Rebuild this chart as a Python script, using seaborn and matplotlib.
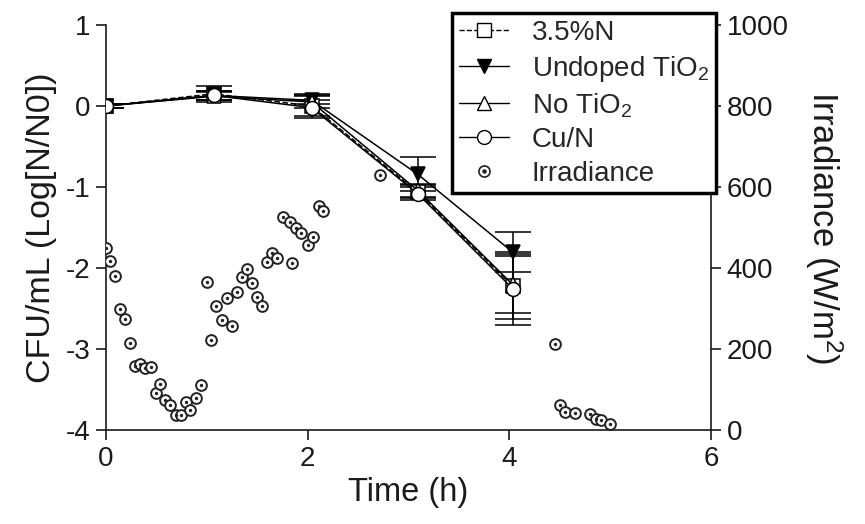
import numpy as np
import pandas as pd
import matplotlib
matplotlib.use("Agg")
import matplotlib.pyplot as plt
import seaborn as sns
from matplotlib.lines import Line2D
from matplotlib.legend_handler import HandlerTuple

# ---------------- data ----------------
series_names = ["3.5%N", "Undoped TiO$_2$", "No TiO$_2$", "Cu/N"]
time_35N = [0.0, 1.07, 2.04, 3.09, 4.03]
time_undoped = [0.0, 1.07, 2.04, 3.09, 4.03]
time_notio2 = [0.0, 1.07, 2.04, 3.09, 4.03]
time_cun = [0.0, 1.07, 2.04, 3.09, 4.03]

cfu_35N = [0.0, 0.15, 0.0, -1.06, -2.22]
cfu_undoped = [0.0, 0.13, 0.07, -0.84, -1.80]
cfu_notio2 = [0.0, 0.12, 0.05, -1.04, -2.20]
cfu_cun = [0.0, 0.13, -0.02, -1.08, -2.25]

err_35N = [0.03, 0.10, 0.15, 0.08, 0.40]
err_undoped = [0.03, 0.05, 0.05, 0.21, 0.25]
err_notio2 = [0.03, 0.05, 0.08, 0.08, 0.35]
err_cun = [0.03, 0.05, 0.10, 0.08, 0.45]

irr_time = [0.00, 0.045, 0.09, 0.14, 0.19, 0.24, 0.29, 0.34, 0.39, 0.45,
            0.50, 0.54, 0.59, 0.64, 0.70, 0.75, 0.80, 0.84, 0.90, 0.95,
            1.00, 1.04, 1.09, 1.15, 1.20, 1.25, 1.30, 1.35, 1.40, 1.45,
            1.50, 1.55, 1.60, 1.65, 1.70, 1.76, 1.83, 1.85, 1.89, 1.94,
            2.00, 2.05, 2.11, 2.15, 2.72, 4.45, 4.50, 4.55, 4.65, 4.80,
            4.86, 4.91, 5.00]
irr_value = [449, 419, 382, 299, 274, 215, 158, 165, 153, 157,
             93, 115, 75, 64, 38, 39, 71, 51, 79, 113,
             365, 223, 307, 272, 326, 257, 342, 379, 399, 364,
             330, 307, 416, 437, 425, 527, 515, 412, 499, 486,
             457, 478, 554, 542, 630, 213, 63, 46, 42, 41,
             28, 26, 16]

x_ticks = [0, 2, 4, 6]
y_ticks = [1, 0, -1, -2, -3, -4]
y2_ticks = [0, 200, 400, 600, 800, 1000]

# ---------------- plot ----------------
sns.set_theme(style="ticks")
plt.rcParams['font.family'] = ['Liberation Sans', 'DejaVu Sans']
plt.rcParams['mathtext.fontset'] = 'custom'
plt.rcParams['mathtext.rm'] = 'Liberation Sans'
plt.rcParams['mathtext.it'] = 'Liberation Sans'

TXT = "#1a1a1a"
fig = plt.figure(figsize=(8.65, 5.24), dpi=100)
ax = fig.add_axes([0.122, 0.1785, 0.7005, 0.774])

styles = [
    dict(marker="s", ls="--", mfc="white"),
    dict(marker="v", ls="-", mfc="black"),
    dict(marker="^", ls="-", mfc="white"),
    dict(marker="o", ls="-", mfc="white"),
]
times = [time_35N, time_undoped, time_notio2, time_cun]
vals = [cfu_35N, cfu_undoped, cfu_notio2, cfu_cun]
errs = [err_35N, err_undoped, err_notio2, err_cun]

handles = []
for name, t, v, e, st in zip(series_names, times, vals, errs, styles):
    df = pd.DataFrame({"t": t, "v": v})
    ax.errorbar(t, v, yerr=e, fmt="none", ecolor="black", elinewidth=1.1,
                capsize=13, capthick=1.1, zorder=2)
    sns.lineplot(data=df, x="t", y="v", ax=ax, color="black", lw=1.1,
                 linestyle=st["ls"], marker=st["marker"], markersize=10,
                 markerfacecolor=st["mfc"], markeredgecolor="black",
                 markeredgewidth=1.1, zorder=3, legend=False)
    handles.append(Line2D([], [], color="black", lw=1.0, ls=st["ls"],
                          marker=st["marker"], markersize=10,
                          markerfacecolor=st["mfc"], markeredgecolor="black"))

ax.set_xlim(0, 6)
ax.set_ylim(-4, 1)
ax.set_xticks(x_ticks)
ax.set_yticks(y_ticks)
ax.set_yticklabels([str(v) for v in y_ticks])
ax.set_xlabel("Time (h)", fontsize=23.5, color=TXT, labelpad=4)
ax.set_ylabel("CFU/mL (Log[N/N0])", fontsize=24.5, color=TXT, labelpad=6)
ax.tick_params(axis="both", labelsize=20, length=7, width=1.2, colors=TXT,
               direction="out", pad=4)
for s in ["left", "bottom"]:
    ax.spines[s].set_linewidth(1.2)
    ax.spines[s].set_color(TXT)
ax.spines["top"].set_visible(False)
ax.spines["right"].set_visible(False)

ax2 = ax.twinx()
irr_df = pd.DataFrame({"t": irr_time, "irr": irr_value})
sns.scatterplot(data=irr_df, x="t", y="irr", ax=ax2, marker="o", s=60,
                facecolor="white", edgecolor="#222222", linewidth=1.4,
                legend=False, zorder=3)
sns.scatterplot(data=irr_df, x="t", y="irr", ax=ax2, marker="o", s=6,
                color="#222222", linewidth=0, legend=False, zorder=4)
ax2.set_ylim(0, 1000)
ax2.set_xlim(0, 6)
ax2.set_yticks(y2_ticks)
ax2.set_ylabel("Irradiance (W/m$^2$)", fontsize=25, color=TXT,
               rotation=270, labelpad=40)
ax2.tick_params(axis="y", labelsize=20, length=7, width=1.2, colors=TXT,
                direction="out", pad=4)
ax2.spines["right"].set_linewidth(1.2)
ax2.spines["right"].set_color(TXT)
for s in ["top", "left", "bottom"]:
    ax2.spines[s].set_visible(False)

irr_handle = (Line2D([], [], ls="none", marker="o", markersize=8,
                     markerfacecolor="white", markeredgecolor="#222222",
                     markeredgewidth=1.2),
              Line2D([], [], ls="none", marker="o", markersize=2.2,
                     markerfacecolor="#222222", markeredgecolor="#222222"))
handles.append(irr_handle)
labels = series_names + ["Irradiance"]

leg = fig.legend(handles, labels, loc="upper left",
                 bbox_to_anchor=(0.523, 0.975), fontsize=20,
                 frameon=True, fancybox=False, shadow=False,
                 handlelength=1.8, handletextpad=0.8, labelspacing=0.27,
                 borderpad=0.25, borderaxespad=0,
                 handler_map={tuple: HandlerTuple(ndivide=1, pad=0)})
leg.get_frame().set_edgecolor("black")
leg.get_frame().set_linewidth(2.5)
leg.get_frame().set_facecolor("white")
leg.get_frame().set_alpha(1)
leg.set_zorder(10)

fig.savefig("out.png", dpi=100)
